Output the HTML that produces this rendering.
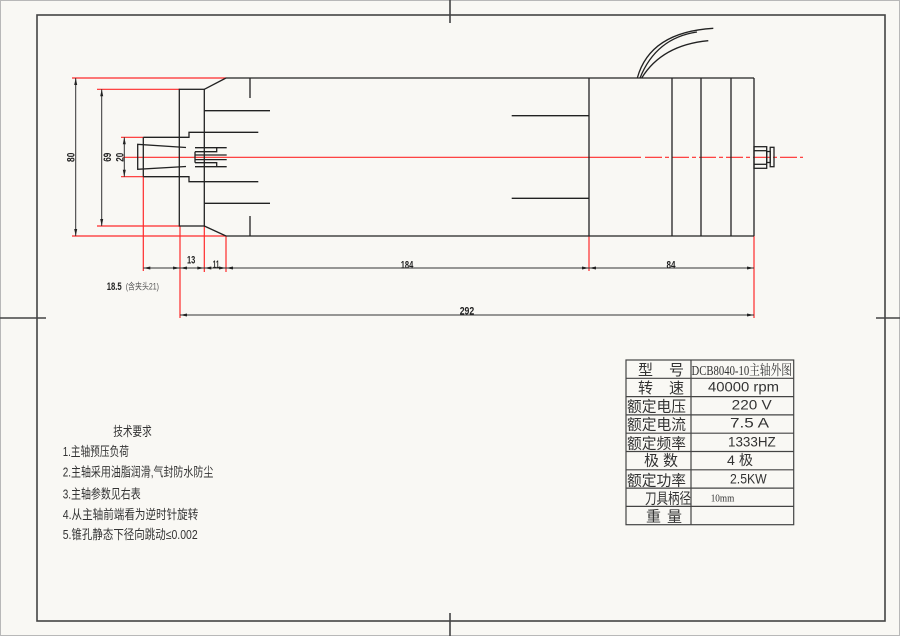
<!DOCTYPE html>
<html><head><meta charset="utf-8">
<style>
html,body{margin:0;padding:0;background:#f9f8f4;}
svg{display:block;}
</style></head><body>
<svg width="900" height="636" viewBox="0 0 900 636" xmlns="http://www.w3.org/2000/svg">
<rect x="0" y="0" width="900" height="636" fill="#f9f8f4"/>
<rect x="0.5" y="0.5" width="899" height="635" fill="none" stroke="#b8b8b8" stroke-width="1"/>

<!-- frame -->
<rect x="37" y="15" width="848" height="606" fill="none" stroke="#444" stroke-width="1.6"/>
<g stroke="#444" stroke-width="1.6">
<line x1="450" y1="0" x2="450" y2="23"/>
<line x1="450" y1="613" x2="450" y2="636"/>
<line x1="0" y1="318" x2="46" y2="318"/>
<line x1="876" y1="318" x2="900" y2="318"/>
</g>

<!-- red construction lines -->
<g stroke="#ff2a2a" stroke-width="1.2" fill="none">
<line x1="72" y1="78" x2="226" y2="78"/>
<line x1="72" y1="236" x2="226" y2="236"/>
<line x1="97" y1="89.3" x2="180" y2="89.3"/>
<line x1="97" y1="226" x2="180" y2="226"/>
<line x1="121" y1="137.3" x2="143.3" y2="137.3"/>
<line x1="121" y1="176.7" x2="143.3" y2="176.7"/>
<line x1="143.3" y1="176.7" x2="143.3" y2="271"/>
<line x1="180" y1="226" x2="180" y2="318"/>
<line x1="204.3" y1="226" x2="204.3" y2="272"/>
<line x1="226" y1="236" x2="226" y2="272"/>
<line x1="589" y1="236" x2="589" y2="271"/>
<line x1="754" y1="236" x2="754" y2="318"/>
<line x1="123" y1="157.3" x2="641" y2="157.3"/>
<line x1="645" y1="157.3" x2="803" y2="157.3" stroke-dasharray="17 3 4 3"/>
</g>

<!-- black geometry -->
<g stroke="#222" stroke-width="1.3" fill="none">
<rect x="179.3" y="89.3" width="25" height="136.7"/>
<line x1="204.3" y1="89.3" x2="226" y2="78"/>
<line x1="204.3" y1="226" x2="226" y2="236"/>
<line x1="226" y1="78" x2="754" y2="78"/>
<line x1="226" y1="236" x2="754" y2="236"/>
<line x1="754" y1="78" x2="754" y2="236"/>
<line x1="589" y1="78" x2="589" y2="236"/>
<line x1="672" y1="78" x2="672" y2="236"/>
<line x1="701" y1="78" x2="701" y2="236"/>
<line x1="731" y1="78" x2="731" y2="236"/>
<line x1="250" y1="78" x2="250" y2="98"/>
<line x1="250" y1="216" x2="250" y2="236"/>
<line x1="204.3" y1="110.7" x2="270" y2="110.7"/>
<line x1="204.3" y1="203.3" x2="270" y2="203.3"/>
<polyline points="143.3,137.3 189,137.3 189,132.3 258.3,132.3"/>
<polyline points="143.3,176.7 189,176.7 189,181.7 258.3,181.7"/>
<line x1="143.3" y1="137.3" x2="143.3" y2="176.7"/>
<polyline points="186,147.5 137.7,144.3 137.7,169.3 186,166.5"/>
<line x1="195" y1="147.7" x2="226.7" y2="147.7"/>
<polyline points="195,151.7 216.7,151.7 216.7,147.7"/>
<line x1="195" y1="155" x2="226.7" y2="155"/>
<line x1="195" y1="159.6" x2="226.7" y2="159.6"/>
<polyline points="195,162.7 216.7,162.7 216.7,166.7"/>
<line x1="195" y1="166.7" x2="226.7" y2="166.7"/>
<line x1="195" y1="151.7" x2="195" y2="162.7"/>
<line x1="511.7" y1="115.7" x2="589" y2="115.7"/>
<line x1="511.7" y1="198.3" x2="589" y2="198.3"/>
<!-- right fitting -->
<rect x="754" y="146.7" width="12.7" height="21.6"/>
<line x1="754" y1="150.7" x2="766.7" y2="150.7"/>
<line x1="754" y1="164.3" x2="766.7" y2="164.3"/>
<rect x="766.7" y="151.5" width="3.5" height="11"/>
<rect x="770.2" y="147.3" width="3.8" height="19.4"/>
<!-- wires -->
<path d="M637.3,78 Q650,32 713.3,28.3"/>
<path d="M640,78 Q656,38 697,32"/>
<path d="M641.7,78 Q662,45 708.3,40.7"/>
</g>

<!-- dimension lines -->
<g stroke="#333" stroke-width="1" fill="none">
<line x1="75.7" y1="78" x2="75.7" y2="236"/>
<line x1="101.7" y1="89.3" x2="101.7" y2="226"/>
<line x1="124.3" y1="137.3" x2="124.3" y2="176.7"/>
<line x1="143.3" y1="268" x2="754" y2="268"/>
<line x1="180" y1="315" x2="754" y2="315"/>
</g>
<g fill="#222" stroke="none">
<polygon points="75.7,78 74.2,85 77.2,85"/>
<polygon points="75.7,236 74.2,229 77.2,229"/>
<polygon points="101.7,89.3 100.2,96.3 103.2,96.3"/>
<polygon points="101.7,226 100.2,219 103.2,219"/>
<polygon points="124.3,137.3 122.8,144.3 125.8,144.3"/>
<polygon points="124.3,176.7 122.8,169.7 125.8,169.7"/>
<polygon points="143.3,268 150.3,266.5 150.3,269.5"/>
<polygon points="180,268 173,266.5 173,269.5"/>
<polygon points="180,268 187,266.5 187,269.5"/>
<polygon points="204.3,268 197.3,266.5 197.3,269.5"/>
<polygon points="204.3,268 211.3,266.5 211.3,269.5"/>
<polygon points="226,268 219,266.5 219,269.5"/>
<polygon points="226,268 233,266.5 233,269.5"/>
<polygon points="589,268 582,266.5 582,269.5"/>
<polygon points="589,268 596,266.5 596,269.5"/>
<polygon points="754,268 747,266.5 747,269.5"/>
<polygon points="180,315 187,313.5 187,316.5"/>
<polygon points="754,315 747,313.5 747,316.5"/>
</g>

<!-- dimension labels -->
<g font-family="Liberation Sans, sans-serif" font-size="11" font-weight="bold" fill="#222">
<text transform="translate(74.5,157.3) rotate(-90)" text-anchor="middle" textLength="9.3" lengthAdjust="spacingAndGlyphs">80</text>
<text transform="translate(110.8,157.3) rotate(-90)" text-anchor="middle" textLength="9" lengthAdjust="spacingAndGlyphs">69</text>
<text transform="translate(123.5,157.3) rotate(-90)" text-anchor="middle" textLength="9" lengthAdjust="spacingAndGlyphs">20</text>
<text x="187" y="263.5" textLength="8.3" lengthAdjust="spacingAndGlyphs">13</text>
<text x="212.7" y="268" textLength="6.6" lengthAdjust="spacingAndGlyphs">11</text>
<text x="400.7" y="268.5" textLength="12.6" lengthAdjust="spacingAndGlyphs">184</text>
<text x="666.5" y="268.5" textLength="9" lengthAdjust="spacingAndGlyphs">84</text>
<text x="459.7" y="314.5" textLength="14.5" lengthAdjust="spacingAndGlyphs">292</text>
<text x="106.7" y="290" textLength="15" lengthAdjust="spacingAndGlyphs">18.5</text>
</g>
<text x="125.7" y="289.5" font-family="Liberation Sans, 'Noto Sans CJK SC', sans-serif" font-size="9" fill="#555" textLength="33.3" lengthAdjust="spacingAndGlyphs">(含夹头21)</text>

<!-- table -->
<g stroke="#444" stroke-width="1.2" fill="none">
<rect x="626" y="360" width="167.7" height="164.7"/>
<line x1="691" y1="360" x2="691" y2="524.7"/>
<line x1="626" y1="378.3" x2="793.7" y2="378.3"/>
<line x1="626" y1="396.6" x2="793.7" y2="396.6"/>
<line x1="626" y1="414.9" x2="793.7" y2="414.9"/>
<line x1="626" y1="433.2" x2="793.7" y2="433.2"/>
<line x1="626" y1="451.5" x2="793.7" y2="451.5"/>
<line x1="626" y1="469.8" x2="793.7" y2="469.8"/>
<line x1="626" y1="488.1" x2="793.7" y2="488.1"/>
<line x1="626" y1="506.4" x2="793.7" y2="506.4"/>
</g>
<g font-family="Liberation Sans, 'Noto Sans CJK SC', sans-serif" font-size="15" fill="#333">
<text x="638" y="375">型</text>
<text x="669" y="375">号</text>
<text x="638" y="393">转</text>
<text x="669" y="393">速</text>
<text x="627" y="411.3" textLength="59" lengthAdjust="spacingAndGlyphs">额定电压</text>
<text x="627" y="429.6" textLength="59" lengthAdjust="spacingAndGlyphs">额定电流</text>
<text x="627" y="448.6" textLength="59" lengthAdjust="spacingAndGlyphs">额定频率</text>
<text x="644" y="465.3">极</text>
<text x="663" y="465.3">数</text>
<text x="627" y="485.3" textLength="59" lengthAdjust="spacingAndGlyphs">额定功率</text>
<text x="645" y="503.6" textLength="46" lengthAdjust="spacingAndGlyphs">刀具柄径</text>
<text x="646" y="521.3">重</text>
<text x="667" y="521.3">量</text>
</g>
<text x="691.5" y="375" font-family="Liberation Serif, 'Noto Serif CJK SC', serif" font-size="14" fill="#333" textLength="100.5" lengthAdjust="spacingAndGlyphs">DCB8040-10主轴外图</text>
<g font-family="Liberation Sans, 'Noto Sans CJK SC', sans-serif" font-size="14" fill="#333">
<text x="708" y="391.7" textLength="71" lengthAdjust="spacingAndGlyphs">40000 rpm</text>
<text x="731.7" y="409.3" textLength="40" lengthAdjust="spacingAndGlyphs">220 V</text>
<text x="730" y="427.5" textLength="39" lengthAdjust="spacingAndGlyphs">7.5 A</text>
<text x="728" y="446.7" textLength="47.7" lengthAdjust="spacingAndGlyphs">1333HZ</text>
<text x="727" y="465" textLength="26" lengthAdjust="spacingAndGlyphs">4 极</text>
<text x="730" y="483.3" textLength="36.7" lengthAdjust="spacingAndGlyphs">2.5KW</text>
</g>
<text x="710.7" y="501.7" font-family="Liberation Serif, serif" font-size="11" fill="#333" textLength="23.6" lengthAdjust="spacingAndGlyphs">10mm</text>

<!-- notes -->
<g font-family="Liberation Sans, 'Noto Sans CJK SC', sans-serif" font-size="13" fill="#333">
<text x="113.3" y="436" textLength="38.4" lengthAdjust="spacingAndGlyphs">技术要求</text>
<text x="62.7" y="456" textLength="66.3" lengthAdjust="spacingAndGlyphs">1.主轴预压负荷</text>
<text x="62.7" y="476.7" textLength="150.6" lengthAdjust="spacingAndGlyphs">2.主轴采用油脂润滑,气封防水防尘</text>
<text x="62.7" y="498.3" textLength="78" lengthAdjust="spacingAndGlyphs">3.主轴参数见右表</text>
<text x="62.7" y="519" textLength="135.6" lengthAdjust="spacingAndGlyphs">4.从主轴前端看为逆时针旋转</text>
<text x="62.7" y="539" textLength="135" lengthAdjust="spacingAndGlyphs">5.锥孔静态下径向跳动≤0.002</text>
</g>
</svg>
</body></html>
